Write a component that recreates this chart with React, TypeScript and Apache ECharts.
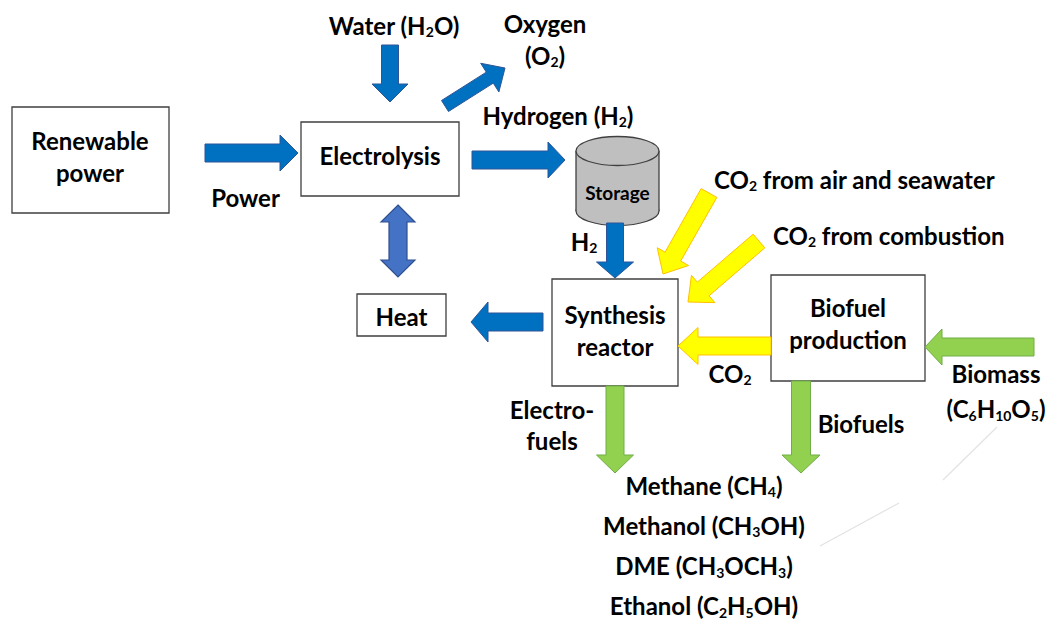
import React, { useEffect, useRef } from "react";
import * as echarts from "echarts";

// ---------- content ----------
const processBoxes = ["Renewable\npower", "Electrolysis", "Heat", "Synthesis\nreactor", "Biofuel\nproduction"];
const flowLabels = [
  "Power",
  "Water (H{s|2}O)",
  "Oxygen\n(O{s|2})",
  "Hydrogen (H{s|2})",
  "H{s|2}",
  "CO{s|2} from air and seawater",
  "CO{s|2} from combustion",
  "CO{s|2}",
  "Biomass\n(C{s|6}H{s|10}O{s|5})",
  "Electro-\nfuels",
  "Biofuels",
];
const storageLabel = "Storage";
const products = [
  "Methane (CH{s|4})",
  "Methanol (CH{s|3}OH)",
  "DME (CH{s|3}OCH{s|3})",
  "Ethanol (C{s|2}H{s|5}OH)",
];

// ---------- layout (pixels) ----------
const FONT_FAMILY = "Lato";
const FS = 24;
const SUB = 14;

const boxLayout = [
  { x: 12, y: 107, w: 157, h: 106, cx: 90, cy: 156 },
  { x: 301, y: 122, w: 158, h: 74, cx: 380, cy: 155 },
  { x: 357, y: 294, w: 89, h: 42, cx: 401.5, cy: 316 },
  { x: 552, y: 279, w: 126, h: 107, cx: 615, cy: 330 },
  { x: 771, y: 275, w: 154, h: 106, cx: 848, cy: 323 },
];

const flowLayout = [
  { x: 245.5, y: 197, align: "center", lh: 32 },
  { x: 394, y: 25, align: "center", lh: 32 },
  { x: 545, y: 39, align: "center", lh: 32 },
  { x: 558, y: 115, align: "center", lh: 32 },
  { x: 584, y: 241, align: "center", lh: 32 },
  { x: 714, y: 179, align: "left", lh: 32 },
  { x: 773, y: 235, align: "left", lh: 32 },
  { x: 730, y: 373, align: "center", lh: 32 },
  { x: 996, y: 391, align: "center", lh: 35 },
  { x: 552, y: 425, align: "center", lh: 31 },
  { x: 861, y: 423, align: "center", lh: 32 },
];

const productLayout = { x: 704, y0: 485, dy: 40.3 };

const COLORS: Record<string, { fill: string; stroke: string }> = {
  blue: { fill: "#0070C0", stroke: "#2F5597" },
  heat: { fill: "#4472C4", stroke: "#2F4F8F" },
  yellow: { fill: "#FFFF00", stroke: "#FFC000" },
  green: { fill: "#92D050", stroke: "#70AD47" },
};

const arrowLayout = [
  { from: [205, 153], to: [298, 153], w: 18, hw: 36, hl: 18, c: "blue" }, // power
  { from: [390, 45], to: [390, 102], w: 17, hw: 36, hl: 18, c: "blue" }, // water
  { from: [445, 106], to: [505, 68], w: 13, hw: 34, hl: 18, c: "blue" }, // oxygen
  { from: [472, 160], to: [565, 160], w: 18, hw: 36, hl: 17, c: "blue" }, // hydrogen
  { from: [615, 223], to: [615, 278], w: 17, hw: 37, hl: 16, c: "blue" }, // H2 down
  { from: [543, 322], to: [471, 322], w: 18, hw: 40, hl: 17, c: "blue" }, // heat out
  { from: [709, 193], to: [663, 274], w: 18, hw: 36, hl: 20, c: "yellow" }, // CO2 air
  { from: [759, 241], to: [688, 302], w: 18, hw: 36, hl: 20, c: "yellow" }, // CO2 combustion
  { from: [771, 346], to: [678, 346], w: 18, hw: 37, hl: 20, c: "yellow" }, // CO2 from biofuel
  { from: [1034, 347], to: [925, 347], w: 18, hw: 36, hl: 17, c: "green" }, // biomass
  { from: [615, 386], to: [615, 473], w: 18, hw: 37, hl: 18, c: "green" }, // electrofuels
  { from: [801, 381], to: [801, 473], w: 19, hw: 38, hl: 18, c: "green" }, // biofuels
];

const doubleArrow = { x: 398, top: 205, bottom: 277, w: 18, hw: 34, hl: 17, c: "heat" };

const storageLayout = { cx: 617.5, rx: 41.5, ry: 14.5, top: 151, bottom: 211, labelY: 192 };

const faintLines = [
  [[997, 427], [943, 480]],
  [[899, 503], [820, 546]],
];

// ---------- helpers ----------
function arrowPoints(from: number[], to: number[], w: number, hw: number, hl: number) {
  const dx = to[0] - from[0];
  const dy = to[1] - from[1];
  const len = Math.hypot(dx, dy);
  const ux = dx / len, uy = dy / len;
  const nx = -uy, ny = ux;
  const bx = to[0] - ux * hl, by = to[1] - uy * hl;
  return [
    [from[0] + nx * w / 2, from[1] + ny * w / 2],
    [bx + nx * w / 2, by + ny * w / 2],
    [bx + nx * hw / 2, by + ny * hw / 2],
    [to[0], to[1]],
    [bx - nx * hw / 2, by - ny * hw / 2],
    [bx - nx * w / 2, by - ny * w / 2],
    [from[0] - nx * w / 2, from[1] - ny * w / 2],
  ];
}

const rich = {
  s: {
    font: `bold ${SUB}px ${FONT_FAMILY}`,
    fill: "#000",
    lineHeight: 14,
    padding: [13, 0, 0, 0],
  },
};

function textEl(text: string, x: number, y: number, align: string, lh: number, size = FS) {
  return {
    type: "text",
    x,
    y,
    style: {
      text,
      font: `bold ${size}px ${FONT_FAMILY}`,
      fill: "#000",
      align,
      verticalAlign: "middle",
      textAlign: align,
      textVerticalAlign: "middle",
      lineHeight: lh,
      rich,
    },
  };
}

export default function App() {
  const ref = useRef<HTMLDivElement>(null);
  useEffect(() => {
    document.body.style.margin = "0";
    if (!ref.current) return;
    const chart = echarts.init(ref.current, null, { renderer: "svg" });
    const els: any[] = [];

    // faint connector
    faintLines.forEach((seg) => {
      els.push({
        type: "line",
        shape: { x1: seg[0][0], y1: seg[0][1], x2: seg[1][0], y2: seg[1][1] },
        style: { stroke: "#E3E3E3", lineWidth: 1.2 },
      });
    });

    // boxes
    processBoxes.forEach((label, i) => {
      const b = boxLayout[i];
      els.push({
        type: "rect",
        shape: { x: b.x, y: b.y, width: b.w, height: b.h },
        style: { fill: "#fff", stroke: "#3F3F3F", lineWidth: 1.3 },
      });
      els.push(textEl(label, b.cx, b.cy, "center", 32));
    });

    // storage cylinder
    const s = storageLayout;
    const cyl = { fill: "#BFBFBF", stroke: "#404040", lineWidth: 1.3 };
    els.push({ type: "ellipse", shape: { cx: s.cx, cy: s.bottom, rx: s.rx, ry: s.ry }, style: cyl });
    els.push({
      type: "rect",
      shape: { x: s.cx - s.rx, y: s.top, width: s.rx * 2, height: s.bottom - s.top },
      style: { fill: "#BFBFBF" },
    });
    els.push({ type: "line", shape: { x1: s.cx - s.rx, y1: s.top, x2: s.cx - s.rx, y2: s.bottom }, style: { stroke: "#404040", lineWidth: 1.3 } });
    els.push({ type: "line", shape: { x1: s.cx + s.rx, y1: s.top, x2: s.cx + s.rx, y2: s.bottom }, style: { stroke: "#404040", lineWidth: 1.3 } });
    els.push({ type: "ellipse", shape: { cx: s.cx, cy: s.top, rx: s.rx, ry: s.ry }, style: cyl });
    els.push(textEl(storageLabel, s.cx, s.labelY, "center", 24, 19));

    // arrows
    arrowLayout.forEach((a) => {
      const col = COLORS[a.c];
      els.push({
        type: "polygon",
        shape: { points: arrowPoints(a.from, a.to, a.w, a.hw, a.hl) },
        style: { fill: col.fill, stroke: col.stroke, lineWidth: 1 },
      });
    });

    // double arrow
    const d = doubleArrow;
    const dc = COLORS[d.c];
    els.push({
      type: "polygon",
      shape: {
        points: [
          [d.x, d.top],
          [d.x + d.hw / 2, d.top + d.hl],
          [d.x + d.w / 2, d.top + d.hl],
          [d.x + d.w / 2, d.bottom - d.hl],
          [d.x + d.hw / 2, d.bottom - d.hl],
          [d.x, d.bottom],
          [d.x - d.hw / 2, d.bottom - d.hl],
          [d.x - d.w / 2, d.bottom - d.hl],
          [d.x - d.w / 2, d.top + d.hl],
          [d.x - d.hw / 2, d.top + d.hl],
        ],
      },
      style: { fill: dc.fill, stroke: dc.stroke, lineWidth: 1.2 },
    });

    // flow labels
    flowLabels.forEach((t, i) => {
      const p = flowLayout[i];
      els.push(textEl(t, p.x, p.y, p.align, p.lh));
    });

    // products
    products.forEach((t, i) => {
      els.push(textEl(t, productLayout.x, productLayout.y0 + i * productLayout.dy, "center", 32));
    });

    chart.setOption({
      animation: false,
      backgroundColor: "#fff",
      graphic: { elements: els },
    });
    return () => chart.dispose();
  }, []);
  return <div ref={ref} style={{ width: 1050, height: 621 }} />;
}
